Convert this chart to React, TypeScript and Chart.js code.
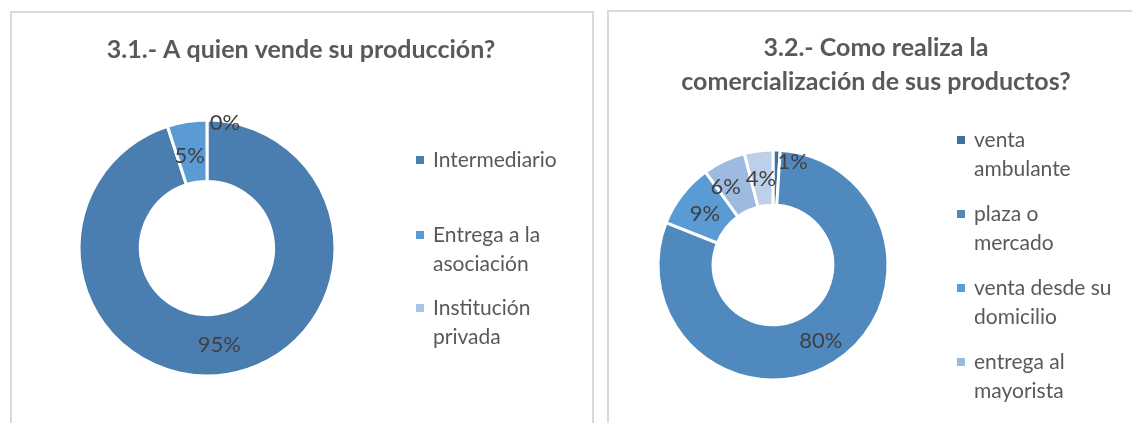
import React, { useEffect, useRef } from "react";
import { Chart, registerables } from "chart.js";

Chart.register(...registerables);

// ---------- DATA ----------
const titleA = ["3.1.- A quien vende su producción?"];
const categoriesA = [["Intermediario"], ["Entrega a la", "asociación"], ["Institución", "privada"]];
const valuesA = [95, 5, 0];

const titleB = ["3.2.- Como realiza la", "comercialización de sus productos?"];
const categoriesB = [
  ["venta", "ambulante"],
  ["plaza o", "mercado"],
  ["venta desde su", "domicilio"],
  ["entrega al", "mayorista"],
  ["otros"],
];
const valuesB = [1, 80, 9, 6, 4];

// ---------- STYLE ----------
const colorsA = ["#4a7eb1", "#5b9bd5", "#a9c4e6"];
const colorsB = ["#41719c", "#4f89bd", "#5b9bd5", "#9dbbe0", "#bdd0ea"];
const FONT = "Lato, 'Noto Sans', sans-serif";
const TEXT = "#595959";
const LABEL = "#404040";

const decorPlugin = {
  id: "decor",
  afterDatasetsDraw(chart: any, _args: any, opts: any) {
    const ctx = chart.ctx as CanvasRenderingContext2D;
    ctx.save();
    // title
    ctx.fillStyle = TEXT;
    ctx.font = `bold ${opts.titleSize}px ${FONT}`;
    ctx.textAlign = "center";
    ctx.textBaseline = "middle";
    (opts.title as string[]).forEach((line, i) => {
      ctx.fillText(line, opts.titleX, opts.titleY + i * opts.titleLH);
    });
    // legend
    const colors = chart.data.datasets[0].backgroundColor as string[];
    ctx.font = `${opts.legendSize}px ${FONT}`;
    ctx.textAlign = "left";
    (opts.labels as string[][]).forEach((lines, i) => {
      const y0 = opts.legendY[i];
      ctx.fillStyle = colors[i];
      ctx.fillRect(opts.legendX, y0 - 4, 8, 8);
      ctx.fillStyle = TEXT;
      lines.forEach((l, j) => ctx.fillText(l, opts.legendX + 17, y0 + j * opts.legendLH));
    });
    // percent labels
    const meta = chart.getDatasetMeta(0);
    const data = chart.data.datasets[0].data as number[];
    const total = data.reduce((a, b) => a + b, 0);
    ctx.font = `${opts.pctSize}px ${FONT}`;
    ctx.fillStyle = LABEL;
    ctx.textAlign = "center";
    meta.data.forEach((arc: any, i: number) => {
      const p = arc.tooltipPosition();
      const off = opts.pctOffsets[i] || [0, 0];
      ctx.fillText(Math.round((data[i] / total) * 100) + "%", p.x + off[0], p.y + off[1]);
    });
    ctx.restore();
  },
};

function Donut(props: {
  left: number; width: number; values: number[]; labels: string[][]; colors: string[];
  radius: number; cx: number; cy: number; decor: any;
}) {
  const ref = useRef<HTMLCanvasElement>(null);
  useEffect(() => {
    const H = 423;
    const { radius, cx, cy, width } = props;
    const chart = new Chart(ref.current!, {
      type: "doughnut",
      data: {
        labels: props.labels.map((l) => l.join(" ")),
        datasets: [{
          data: props.values,
          backgroundColor: props.colors,
          borderColor: "#ffffff",
          borderWidth: 3,
        }],
      },
      options: {
        responsive: false,
        animation: false,
        devicePixelRatio: 1,
        radius: radius,
        cutout: "52%",
        layout: {
          padding: {
            left: cx - radius,
            top: cy - radius,
            right: width - (cx + radius),
            bottom: H - (cy + radius),
          },
        },
        plugins: {
          legend: { display: false },
          tooltip: { enabled: false },
          title: { display: false },
          decor: props.decor,
        } as any,
      },
      plugins: [decorPlugin],
    });
    return () => chart.destroy();
  }, []);
  return (
    <canvas
      ref={ref}
      width={props.width}
      height={423}
      style={{ position: "absolute", left: props.left, top: 0, width: props.width, height: 423 }}
    />
  );
}

export default function App() {
  return (
    <div style={{ position: "fixed", left: 0, top: 0, width: 1132, height: 423, background: "#fff", overflow: "hidden" }}>
      <div style={{ position: "absolute", left: 10, top: 11, width: 584, height: 440, border: "2px solid #d9d9d9", boxSizing: "border-box" }} />
      <div style={{ position: "absolute", left: 607, top: 10, width: 560, height: 440, border: "2px solid #d9d9d9", boxSizing: "border-box" }} />
      <Donut
        left={0}
        width={600}
        values={valuesA}
        labels={categoriesA}
        colors={colorsA}
        radius={128}
        cx={207}
        cy={248}
        decor={{
          title: titleA, titleX: 301, titleY: 50, titleLH: 34, titleSize: 25,
          labels: categoriesA, legendX: 416, legendY: [160, 235, 308], legendLH: 29, legendSize: 21,
          pctSize: 22, pctOffsets: [[-3, 1], [-2, 4], [18, -28]],
        }}
      />
      <Donut
        left={600}
        width={532}
        values={valuesB}
        labels={categoriesB}
        colors={colorsB}
        radius={115}
        cx={173}
        cy={265}
        decor={{
          title: titleB, titleX: 276, titleY: 48, titleLH: 34, titleSize: 25,
          labels: categoriesB, legendX: 357, legendY: [140, 214, 288, 362, 436], legendLH: 29.5, legendSize: 21,
          pctSize: 22, pctOffsets: [[17, -16], [1, 2], [1, 2], [-10, 1], [-1, 1]],
        }}
      />
    </div>
  );
}
